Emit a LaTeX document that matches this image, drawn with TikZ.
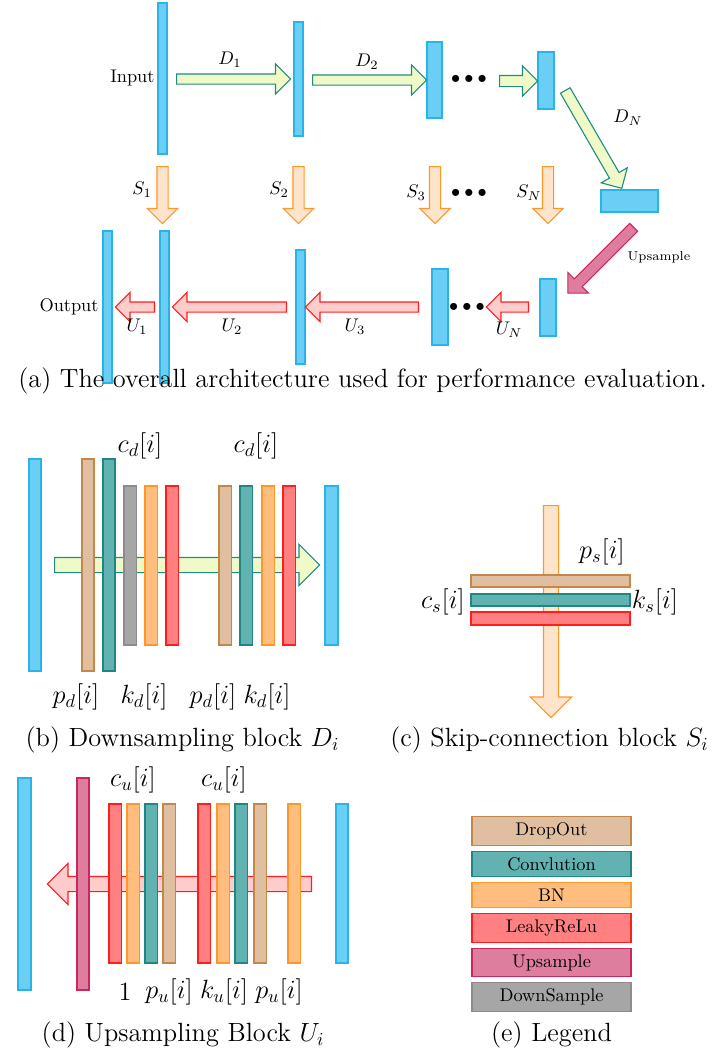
\documentclass[tikz,border=0pt]{standalone}
\usetikzlibrary{positioning,fit,shapes.arrows}
\definecolor{featF}{RGB}{107,207,245}
\definecolor{featD}{RGB}{40,180,230}
\definecolor{dropF}{RGB}{224,190,160}
\definecolor{dropD}{RGB}{195,135,75}
\definecolor{convF}{RGB}{99,178,178}
\definecolor{convD}{RGB}{30,135,130}
\definecolor{bnF}{RGB}{255,190,125}
\definecolor{bnD}{RGB}{255,150,40}
\definecolor{reluF}{RGB}{255,128,128}
\definecolor{reluD}{RGB}{255,30,30}
\definecolor{upF}{RGB}{222,125,157}
\definecolor{upD}{RGB}{200,40,95}
\definecolor{downF}{RGB}{166,166,166}
\definecolor{downD}{RGB}{140,140,140}
\definecolor{dArrF}{RGB}{240,250,200}
\definecolor{dArrD}{RGB}{30,140,130}
\definecolor{sArrF}{RGB}{255,228,204}
\definecolor{sArrD}{RGB}{255,150,40}
\definecolor{uArrF}{RGB}{255,204,204}
\definecolor{uArrD}{RGB}{255,30,30}
\newcommand\unitpx{0.5464pt}
\tikzset{
  barL/.style={inner sep=0pt,line width=0.6pt},
  featL/.style={barL,draw=featD,fill=featF},
  dropL/.style={barL,draw=dropD,fill=dropF},
  convL/.style={barL,draw=convD,fill=convF},
  bnL/.style={barL,draw=bnD,fill=bnF},
  reluL/.style={barL,draw=reluD,fill=reluF},
  upL/.style={barL,draw=upD,fill=upF},
  downL/.style={barL,draw=downD,fill=downF},
  legL/.style={inner sep=0.3333em,minimum width={159*\unitpx}},
  fat/.style n args={3}{single arrow,single arrow head extend={(#3-#2)*\unitpx/2},
    inner xsep=0pt,inner ysep={#2*\unitpx/2},
    minimum height={#1*\unitpx},anchor=tail,line width=0.6pt},
  dArr/.style={draw=dArrD,fill=dArrF},
  sArr/.style={draw=sArrD,fill=sArrF},
  uArr/.style={draw=uArrD,fill=uArrF},
  capT/.style={font=\Large}
}
\begin{document}
\begin{tikzpicture}[x=0.5464pt,y=-0.5464pt]
\useasboundingbox (0,0) rectangle (719,1055);
% (a) overall architecture
\node[featL,fit={(158,3) (167,154)}] (inp) {};
\node[featL,fit={(294,22) (303,136)}] (enc2) {};
\node[featL,fit={(427,42) (442,118)}] (enc3) {};
\node[featL,fit={(538,52) (554,109)}] (encN) {};
\node[featL,fit={(601,190) (658,212)}] (bott) {};
\node[featL,fit={(103,231) (112,383)}] (outp) {};
\node[featL,fit={(160,231) (169,383)}] (dec1) {};
\node[featL,fit={(296,250) (305,364)}] (dec2) {};
\node[featL,fit={(432,269) (448,345)}] (dec3) {};
\node[featL,fit={(540,279) (556,336)}] (decN) {};
\node[anchor=east] (lIn) at (161,78) {Input};
\node[anchor=east] (lOut) at (105,307) {Output};
\node[fat={114}{9}{29},dArr] (aD1) at (176,79) {};
\node[fat={114}{9}{29},dArr] (aD2) at (312,80) {};
\node[fat={38}{10}{29},dArr] (aD3) at (499,81) {};
\node[fat={113}{10}{29},dArr,rotate=-60] (aDN) at (565,90) {};
\node (lD1) at (230,60) {$D_1$};
\node (lD2) at (367,62) {$D_2$};
\node (lDN) at (628,118) {$D_N$};
\node (dotsD) at (469,79) {$\bullet\bullet\bullet$};
\foreach \x/\n in {162.5/1,298.5/2,435/3,548/N}
  \node[fat={57}{10}{29},sArr,rotate=-90] (aS\n) at (\x,166) {};
\node (lS1) at (142,190) {$S_1$};
\node (lS2) at (279,190) {$S_2$};
\node (lS3) at (416,193) {$S_3$};
\node (lSN) at (529,193) {$S_N$};
\node (dotsS) at (469,193) {$\bullet\bullet\bullet$};
\node[fat={93}{10}{28},draw=upD,fill=upF,rotate=-135] (aUp) at (634,227) {};
\node[font=\scriptsize] (lUp) at (659,257) {Upsample};
\node[fat={39}{9}{28},uArr,rotate=180] (aU1) at (155,307) {};
\node[fat={114}{9}{28},uArr,rotate=180] (aU2) at (287,307) {};
\node[fat={113}{9}{28},uArr,rotate=180] (aU3) at (419,307) {};
\node[fat={42}{9}{28},uArr,rotate=180] (aUN) at (529,307) {};
\node (lU1) at (137,327) {$U_1$};
\node (lU2) at (232,327) {$U_2$};
\node (lU3) at (355,327) {$U_3$};
\node (lUN) at (509,330) {$U_N$};
\node (dotsU) at (467,307) {$\bullet\bullet\bullet$};
\node[capT] (capA) at (362.5,381) {(a) The overall architecture used for performance evaluation.};
% (b) downsampling block
\node[fat={265}{14}{40},dArr] (bArr) at (54,565) {};
\node[featL,fit={(29,459) (41,671)}] (bIn) {};
\node[dropL,fit={(82,459) (94,671)}] (bDrop) {};
\node[convL,fit={(103,459) (115,671)}] (bConv) {};
\foreach \x/\c in {124/down,145/bn,166/relu,219/drop,240/conv,262/bn,283/relu}
  \node[barL,draw=\c D,fill=\c F,fit={(\x,486) ({\x+12.5},645)}] (b\x) {};
\node[featL,fit={(325,486) (338,645)}] (bOut) {};
\node[font=\Large] (bc1) at (140,446) {$c_d[i]$};
\node[font=\Large] (bc2) at (256,446) {$c_d[i]$};
\node[font=\Large] (bp1) at (76,697) {$p_d[i]$};
\node[font=\Large] (bk1) at (144,697) {$k_d[i]$};
\node[font=\Large] (bp2) at (213,697) {$p_d[i]$};
\node[font=\Large] (bk2) at (267,697) {$k_d[i]$};
\node[capT] (capB) at (182.5,740) {(b) Downsampling block $D_i$};
% (c) skip-connection block
\node[fat={212}{14}{40},sArr,rotate=-90] (cArr) at (551,505) {};
\node[dropL,fit={(471,575) (630,587)}] (cDrop) {};
\node[convL,fit={(471,594) (630,606)}] (cConv) {};
\node[reluL,fit={(471,612) (630,625)}] (cRelu) {};
\node[font=\Large] (cp) at (602,552) {$p_s[i]$};
\node[font=\Large] (cc) at (443,602) {$c_s[i]$};
\node[font=\Large] (ck) at (655,602) {$k_s[i]$};
\node[capT] (capC) at (549.5,740) {(c) Skip-connection block $S_i$};
% (d) upsampling block
\node[fat={264}{14}{40},uArr,rotate=180] (dArrow) at (312,884) {};
\node[featL,fit={(18,778) (31,990)}] (dOut) {};
\node[upL,fit={(77,778) (89,990)}] (dUp) {};
\foreach \x/\c in {109/relu,127/bn,145/conv,163/drop,198/relu,217/bn,235/conv,254/drop,288/bn}
  \node[barL,draw=\c D,fill=\c F,fit={(\x,804) ({\x+12.5},963)}] (d\x) {};
\node[featL,fit={(336,804) (348,963)}] (dIn) {};
\node[font=\Large] (dc1) at (133,780) {$c_u[i]$};
\node[font=\Large] (dc2) at (224,780) {$c_u[i]$};
\node[font=\Large] (d1) at (125,992) {$1$};
\node[font=\Large] (dp1) at (169,992) {$p_u[i]$};
\node[font=\Large] (dk) at (224,992) {$k_u[i]$};
\node[font=\Large] (dp2) at (279,992) {$p_u[i]$};
\node[capT] (capD) at (183,1035) {(d) Upsampling Block $U_i$};
% (e) legend
\node[dropL,legL,anchor=north] (gDrop) at (551.5,816) {DropOut};
\node[convL,legL,below=2.7pt of gDrop] (gConv) {Convlution};
\node[bnL,legL,below=2.7pt of gConv] (gBn) {BN};
\node[reluL,legL,below=2.7pt of gBn] (gRelu) {LeakyReLu};
\node[upL,legL,below=2.7pt of gRelu] (gUp) {Upsample};
\node[downL,legL,below=2.7pt of gUp] (gDown) {DownSample};
\node[capT] (capE) at (551.5,1035) {(e) Legend};
\end{tikzpicture}
\end{document}
